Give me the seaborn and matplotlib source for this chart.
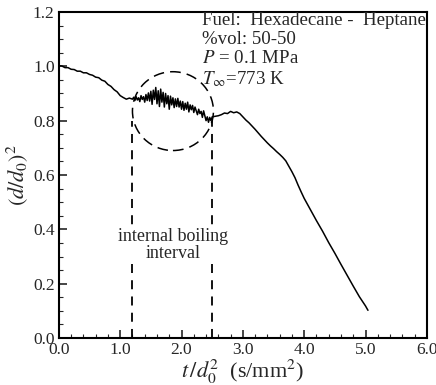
import numpy as np
import pandas as pd
import matplotlib.pyplot as plt
from matplotlib.patches import Ellipse
from matplotlib.ticker import MultipleLocator
import seaborn as sns

# squared normalised diameter vs normalised time
t_smooth = [0.00, 0.05, 0.10, 0.15, 0.20, 0.25, 0.30, 0.35, 0.40, 0.45, 0.50, 0.55,
            0.60, 0.65, 0.70, 0.75, 0.80, 0.85, 0.90, 0.95, 1.00, 1.05, 1.10, 1.15, 1.20]
d2_smooth = [1.002, 1.001, 0.995, 0.995, 0.989, 0.988, 0.982, 0.982, 0.976, 0.976, 0.970, 0.967,
             0.960, 0.958, 0.949, 0.945, 0.933, 0.926, 0.914, 0.906, 0.892, 0.885, 0.879, 0.883, 0.879]

t_boil = [1.22, 1.24, 1.26, 1.28, 1.30, 1.32, 1.34, 1.36, 1.38, 1.40, 1.42, 1.44, 1.46, 1.48,
          1.50, 1.52, 1.54, 1.56, 1.58, 1.60, 1.62, 1.64, 1.66, 1.68, 1.70, 1.72, 1.74, 1.76,
          1.78, 1.80, 1.82, 1.84, 1.86, 1.88, 1.90, 1.92, 1.94, 1.96, 1.98, 2.00, 2.02, 2.04,
          2.06, 2.08, 2.10, 2.12, 2.14, 2.16, 2.18, 2.20, 2.22, 2.24, 2.26, 2.28, 2.30, 2.32,
          2.34, 2.36, 2.38, 2.40, 2.42, 2.44, 2.46, 2.48, 2.50]
d2_boil = [0.886, 0.874, 0.888, 0.876, 0.884, 0.870, 0.892, 0.878, 0.888, 0.868, 0.896, 0.874,
           0.902, 0.872, 0.908, 0.860, 0.912, 0.878, 0.922, 0.862, 0.910, 0.852, 0.916, 0.868,
           0.904, 0.850, 0.900, 0.862, 0.892, 0.842, 0.890, 0.858, 0.884, 0.848, 0.880, 0.852,
           0.882, 0.850, 0.872, 0.842, 0.870, 0.838, 0.864, 0.842, 0.868, 0.832, 0.858, 0.840,
           0.856, 0.830, 0.850, 0.836, 0.822, 0.842, 0.826, 0.834, 0.812, 0.836, 0.818, 0.800,
           0.814, 0.794, 0.812, 0.800, 0.814]

t_late = [2.55, 2.60, 2.65, 2.70, 2.75, 2.80, 2.85, 2.90, 2.95, 3.00, 3.05, 3.10, 3.15, 3.20,
          3.25, 3.30, 3.35, 3.40, 3.45, 3.50, 3.55, 3.60, 3.65, 3.70, 3.75, 3.80, 3.85, 3.90,
          3.95, 4.00, 4.10, 4.20, 4.30, 4.40, 4.50, 4.60, 4.70, 4.80, 4.90, 5.00, 5.04]
d2_late = [0.816, 0.818, 0.822, 0.828, 0.826, 0.834, 0.829, 0.832, 0.826, 0.814, 0.802, 0.792,
           0.780, 0.768, 0.755, 0.742, 0.730, 0.718, 0.707, 0.697, 0.686, 0.676, 0.665, 0.652,
           0.632, 0.612, 0.590, 0.563, 0.538, 0.514, 0.473, 0.432, 0.393, 0.351, 0.312, 0.271,
           0.231, 0.191, 0.152, 0.118, 0.102]

boil_start = 1.2
boil_end = 2.49

df = pd.DataFrame({"t": t_smooth + t_boil + t_late,
                   "d2": d2_smooth + d2_boil + d2_late})

sns.set_style("ticks")
plt.rcParams["font.family"] = ["Liberation Serif", "DejaVu Serif"]
plt.rcParams["mathtext.fontset"] = "stix"

fig = plt.figure(figsize=(4.36, 3.85), dpi=100)
ax = fig.add_axes([0.135, 0.122, 0.844, 0.847])

sns.lineplot(data=df, x="t", y="d2", ax=ax, color="black", lw=1.1, sort=False)

# internal boiling interval markers
for tb in (boil_start, boil_end):
    ax.plot([tb, tb], [0, 0.80], color="black", lw=1.3, ls=(0, (5, 4)))
ax.add_patch(Ellipse((1.86, 0.835), 1.32, 0.29, fill=False, ec="black",
                     lw=1.1, ls=(0, (7, 4))))
ax.text(1.86, 0.342, "internal boiling\ninterval", ha="center", va="center",
        fontsize=13, linespacing=1.0,
        bbox=dict(facecolor="white", edgecolor="none", pad=1))

# condition labels
info = ["Fuel:  Hexadecane -  Heptane", "%vol: 50-50",
        "$P$ = 0.1 MPa", r"$T_\infty$=773 K"]
info_y = [1.170, 1.100, 1.027, 0.953]
for s, yy in zip(info, info_y):
    ax.text(2.33, yy, s, ha="left", va="center", fontsize=13.6)

ax.set_xlim(0, 6)
ax.set_ylim(0, 1.2)
ax.xaxis.set_major_locator(MultipleLocator(1.0))
ax.xaxis.set_minor_locator(MultipleLocator(0.2))
ax.yaxis.set_major_locator(MultipleLocator(0.2))
ax.yaxis.set_minor_locator(MultipleLocator(0.05))
ax.set_xticklabels([f"{v:.1f}" for v in ax.get_xticks()])
ax.set_yticklabels([f"{v:.1f}" for v in ax.get_yticks()])
ax.tick_params(which="both", direction="in", top=False, right=False, labelsize=12.5, pad=3)
ax.tick_params(which="major", length=6, width=1.2)
ax.tick_params(which="minor", length=3, width=0.8)
for sp in ax.spines.values():
    sp.set_linewidth(1.5)
    sp.set_color("black")

ax.set_xlabel(r"$t\,/d_0^2$  (s/mm$^2$)", fontsize=16, labelpad=0)
ax.set_ylabel(r"$(d/d_0)^2$", fontsize=16, labelpad=2)

fig.savefig("out.png", dpi=100)
